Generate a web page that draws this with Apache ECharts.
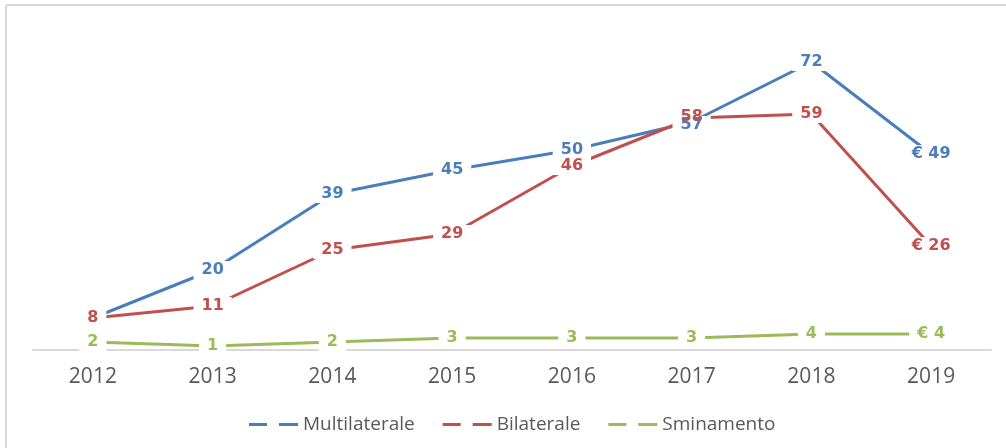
<!DOCTYPE html>
<html>
<head>
<meta charset="utf-8">
<script src="https://cdn.jsdelivr.net/npm/echarts@6/dist/echarts.min.js"></script>
<style>
html,body{margin:0;padding:0;background:#fff;}
#chart{width:1006px;height:448px;}
</style>
</head>
<body>
<div id="chart"></div>
<script>
const categories = ['2012','2013','2014','2015','2016','2017','2018','2019'];
const multilaterale = [8, 20, 39, 45, 50, 57, 72, 49];
const bilaterale = [8, 11, 25, 29, 46, 58, 59, 26];
const sminamento = [2, 1, 2, 3, 3, 3, 4, 4];
const seriesNames = ['Multilaterale', 'Bilaterale', 'Sminamento'];
const colors = ['#4A7EBB', '#C0504D', '#9BBB59'];

const lastIdx = categories.length - 1;
function labelFormatter(p) {
  return p.dataIndex === lastIdx ? '€ ' + p.value : String(p.value);
}
function mkSeries(name, data, color, overrides) {
  const items = data.map((v, i) => {
    const o = overrides && overrides[i];
    return o ? { value: v, label: o } : v;
  });
  return {
    name: name,
    type: 'line',
    data: items,
    symbol: 'circle',
    symbolSize: 1,
    showSymbol: true,
    itemStyle: { color: color },
    lineStyle: { color: color, width: 3 },
    label: {
      show: true,
      position: 'inside',
      formatter: labelFormatter,
      color: color,
      fontFamily: 'DejaVu Sans',
      fontWeight: 'bold',
      fontSize: 16,
      backgroundColor: '#fff',
      padding: [1, 8]
    },
    emphasis: { disabled: true },
    animation: false
  };
}
const dashIcon = 'path://M0,0 L18,0 L18,3 L0,3 Z M30,0 L49,0 L49,3 L30,3 Z';

const chart = echarts.init(document.getElementById('chart'));
chart.setOption({
  backgroundColor: '#fff',
  animation: false,
  color: colors,
  grid: { left: 33, right: 15, top: 30, bottom: 98, containLabel: false },
  xAxis: {
    type: 'category',
    data: categories,
    boundaryGap: true,
    axisLine: { lineStyle: { color: '#D9D9D9', width: 2 } },
    axisTick: { show: false },
    axisLabel: { color: '#595959', fontFamily: 'Open Sans', fontSize: 21, margin: 17 }
  },
  yAxis: {
    type: 'value',
    min: 0,
    max: 80,
    show: false,
    splitLine: { show: false }
  },
  legend: {
    left: 244,
    top: 410,
    itemGap: 28,
    itemWidth: 49,
    itemHeight: 3,
    icon: dashIcon,
    data: seriesNames,
    textStyle: { color: '#595959', fontFamily: 'Open Sans', fontSize: 19 }
  },
  graphic: [
    { type: 'line', shape: { x1: 6, y1: 5, x2: 1006, y2: 5 }, style: { stroke: '#D9D9D9', lineWidth: 2 } },
    { type: 'line', shape: { x1: 6, y1: 5, x2: 6, y2: 448 }, style: { stroke: '#D9D9D9', lineWidth: 2 } }
  ],
  series: [
    mkSeries(seriesNames[0], multilaterale, colors[0], { 0: { offset: [-1, -1] }, 5: { offset: [0, 3] } }),
    mkSeries(seriesNames[1], bilaterale, colors[1], { 5: { backgroundColor: 'transparent', offset: [0, -1] } }),
    mkSeries(seriesNames[2], sminamento, colors[2])
  ]
});
</script>
</body>
</html>
